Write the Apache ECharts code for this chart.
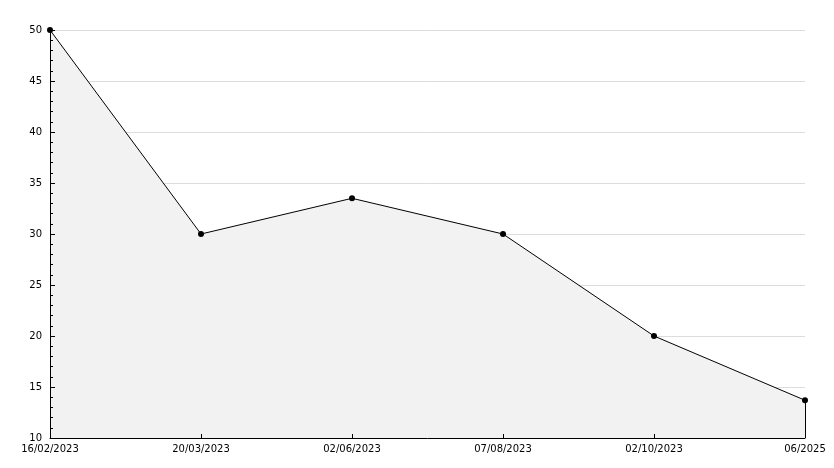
<!DOCTYPE html>
<html><head><meta charset="utf-8">
<script src="https://cdn.jsdelivr.net/npm/echarts@6/dist/echarts.min.js"></script>
<style>html,body{margin:0;padding:0;background:#fff}#c{width:834px;height:468px}</style>
</head><body><div id="c"></div>
<script>
const categories = ['16/02/2023','20/03/2023','02/06/2023','07/08/2023','02/10/2023','06/2025'];
const values = [50, 30, 33.5, 30, 20, 13.7];
const yMin = 10, yMax = 50, yStep = 5;

const chart = echarts.init(document.getElementById('c'), null, {renderer:'canvas'});
const font = {fontFamily:'DejaVu Sans', fontSize:10, color:'#000'};
const lastIdx = categories.length - 1;
chart.setOption({
  animation:false,
  backgroundColor:'#fff',
  grid:{left:50, right:29, top:30, bottom:30, containLabel:false},
  xAxis:{
    type:'category', data:categories, boundaryGap:false, z:10,
    axisLine:{lineStyle:{color:'#000', width:1}},
    axisTick:{inside:true, length:4, alignWithLabel:true, lineStyle:{color:'#000'}},
    axisLabel:Object.assign({margin:6, interval:0}, font),
    splitLine:{show:false}
  },
  yAxis:[{
    type:'value', min:yMin, max:yMax, interval:yStep, z:0,
    axisLine:{show:false}, axisTick:{show:false},
    axisLabel:Object.assign({margin:8}, font),
    splitLine:{show:true, lineStyle:{color:'#dddddd', width:1}}
  },{
    type:'value', min:yMin, max:yMax, interval:yStep, z:10, position:'left',
    axisLine:{show:true, onZero:false, lineStyle:{color:'#000', width:1}},
    axisTick:{show:true, inside:true, length:5, lineStyle:{color:'#000'}},
    minorTick:{show:true, splitNumber:5, length:3, lineStyle:{color:'#000'}},
    axisLabel:{show:false},
    splitLine:{show:false}
  }],
  series:[{
    type:'line', data:values,
    symbol:'circle', symbolSize:6,
    itemStyle:{color:'#000'},
    lineStyle:{color:'#000', width:1},
    areaStyle:{color:'#f2f2f2', opacity:1},
    z:3,
    markLine:{
      silent:true, symbol:'none', label:{show:false},
      lineStyle:{color:'#000', width:1, type:'solid'},
      data:[[{coord:[lastIdx, values[lastIdx]]},{coord:[lastIdx, yMin]}]]
    }
  }]
});
</script></body></html>
